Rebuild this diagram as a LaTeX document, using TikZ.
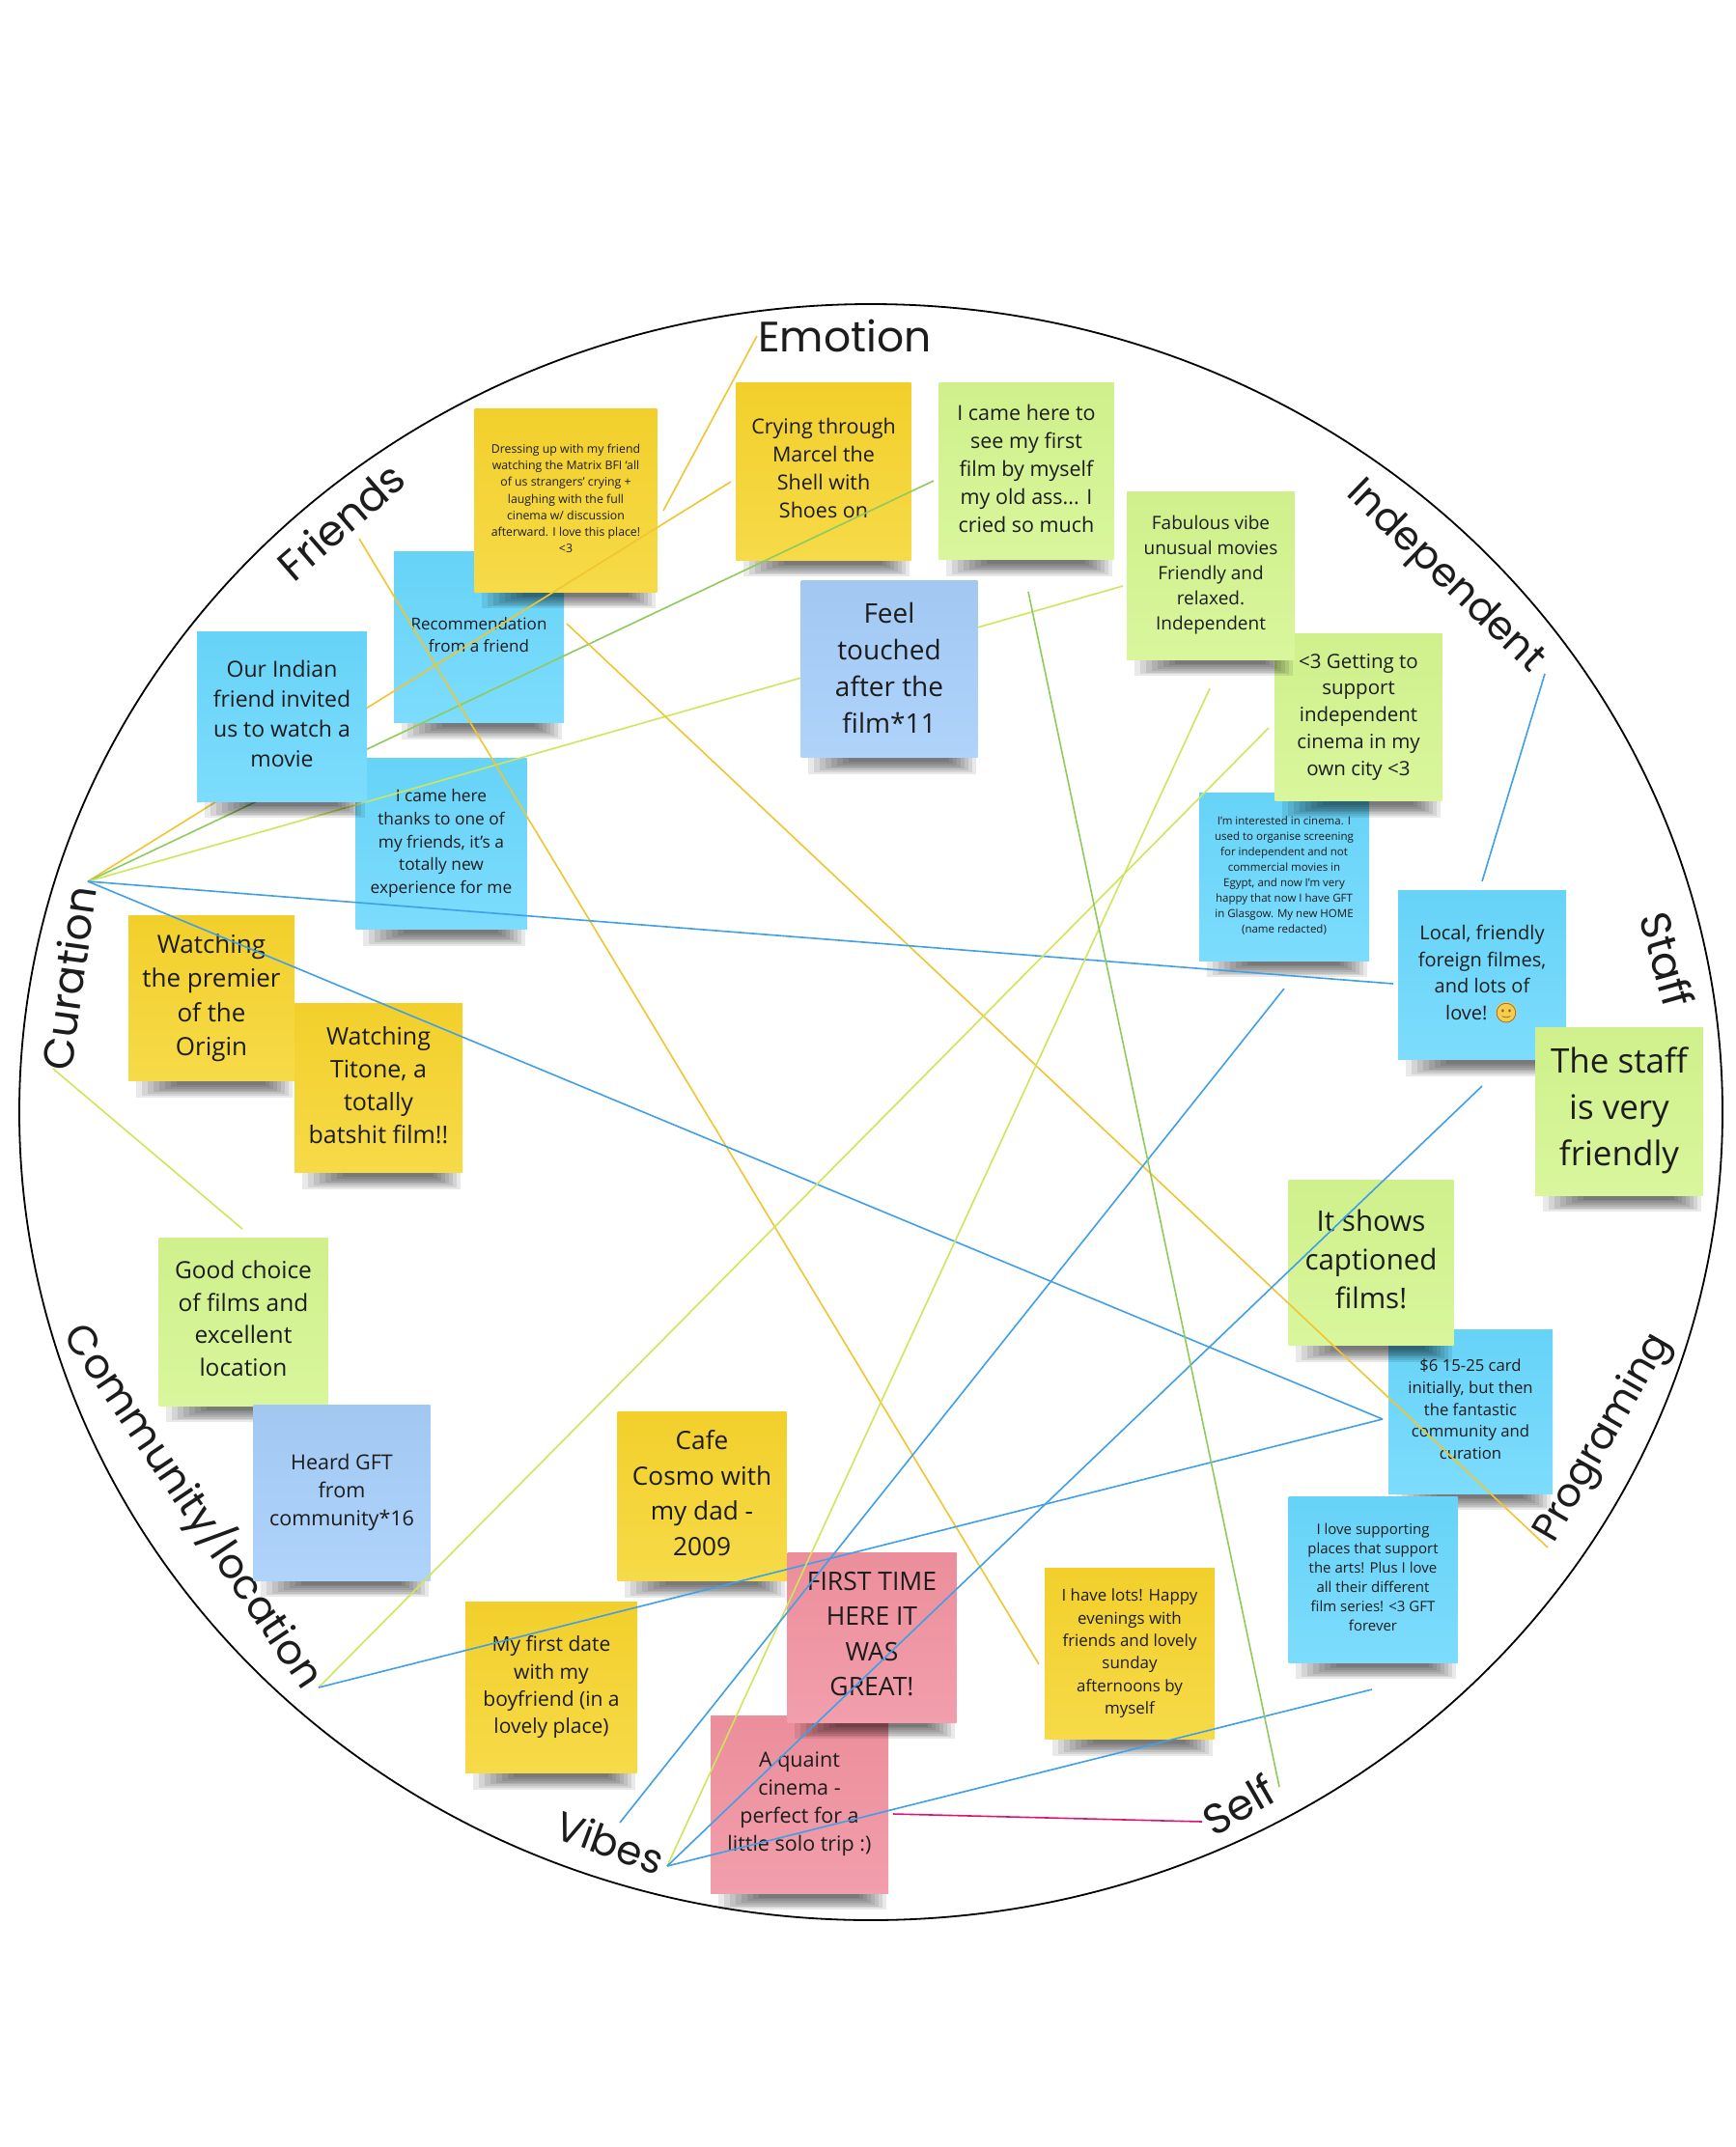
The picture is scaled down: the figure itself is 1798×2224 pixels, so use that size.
\documentclass[tikz,border=0pt]{standalone}
\usepackage{fontspec}
\setmainfont{Open Sans}
\newfontfamily\labelfont{Poppins}
\newfontfamily\emojifont{Noto Emoji}
\newfontfamily\symbolfont{DejaVu Sans}
\usetikzlibrary{calc}

\definecolor{yellowtop}{HTML}{F2CF2B}
\definecolor{yellowbot}{HTML}{F6DA48}
\definecolor{cyantop}{HTML}{66D3F7}
\definecolor{cyanbot}{HTML}{7DDCFD}
\definecolor{limetop}{HTML}{CFF08C}
\definecolor{limebot}{HTML}{D9F69C}
\definecolor{pinktop}{HTML}{EC8E9B}
\definecolor{pinkbot}{HTML}{F29EAC}
\definecolor{periwinkletop}{HTML}{A2C8F2}
\definecolor{periwinklebot}{HTML}{AFD3FB}
\definecolor{lineyellow}{HTML}{F1C530}
\definecolor{linegreen}{HTML}{8ECB5C}
\definecolor{linelime}{HTML}{CFE55B}
\definecolor{lineblue}{HTML}{3F9FE8}
\definecolor{linepink}{HTML}{DF1470}
\definecolor{inkcolor}{HTML}{1C1C1C}
\definecolor{smileyfill}{HTML}{F7CE4B}

\newcommand{\fs}[2]{\fontsize{#1}{#2}\selectfont}

\begin{document}
\begin{tikzpicture}[x=1pt,y=-1pt]
		\tikzstyle{note} = [inner sep=0pt, align=center, text=inkcolor,
			append after command={\pgfextra{
				\foreach \i in {0,...,7}
					\fill[black, fill opacity=.085]
						($(\tikzlastnode.south west)+(8+6*\i,0)$) rectangle ($(\tikzlastnode.south east)+(-2-4*\i,17-1.8*\i)$);
			}}]
		\tikzstyle{yellownote} = [note, top color=yellowtop, bottom color=yellowbot]
		\tikzstyle{cyannote} = [note, top color=cyantop, bottom color=cyanbot]
		\tikzstyle{limenote} = [note, top color=limetop, bottom color=limebot]
		\tikzstyle{pinknote} = [note, top color=pinktop, bottom color=pinkbot]
		\tikzstyle{periwinklenote} = [note, top color=periwinkletop, bottom color=periwinklebot]
		\tikzset{size/.style 2 args={font=\fs{#1}{#2}, text depth=#1*0.27pt}}
		\tikzstyle{theme} = [font=\labelfont\fs{44}{50}, text=inkcolor, inner sep=0pt]
		\tikzstyle{link} = [line width=1.6pt]

		\useasboundingbox (0,0) rectangle (1798,2224);
		\fill[white] (0,0) rectangle (1798,2224);

		% Outer circle
		\draw[line width=1.8pt, black] (902,1152) ellipse [x radius=882, y radius=837];

		% Free ends of the connectors
		\foreach \name/\x/\y in {curation/91/913, curationlow/55/1107, goodtop/251/1273,
			friends/372/558, lotsend/1076/1724, dressingend/587/646, programing/1603/1603,
			emotion/784/348, emotionend/687/529, cryingend/757/499, seeend/967/498,
			fabulousend/1163/607, localend/1443/1019, sixend/1432/1470,
			community/330/1748, gettingend/1314/754, vibes/691/1933, vibestop/642/1888,
			fabulousdown/1253/713, localdown/1535/1125, interestedend/1330/1024, lotsdown/1421/1750,
			seedown/1065/613, selfend/1325/1851, quaintend/925/1879, selfleft/1245/1887,
			localup/1535/913, independent/1600/698}
			\coordinate (\name) at (\x,\y);

		% Theme labels
		\node[theme] (Emotion) at (875,348) {Emotion};
		\node[theme, rotate=41] (Friends) at (353,540) {Friends};
		\node[theme, rotate=-44, font=\labelfont\fs{41.5}{50}] (Independent) at (1496,598) {Independent};
		\node[theme, rotate=-74] (Staff) at (1727,994) {Staff};
		\node[theme, rotate=60, font=\labelfont\fs{41}{50}] (Programing) at (1661,1490) {Programing};
		\node[theme, rotate=30] (Self) at (1283,1869) {Self};
		\node[theme, rotate=-20, font=\labelfont\fs{42}{50}] (Vibes) at (632,1908) {Vibes};
		\node[theme, rotate=-56, font=\labelfont\fs{42.5}{50}] (Community) at (201,1560) {Community/location};
		\node[theme, rotate=82] (Curation) at (71,1013) {Curation};

		% Sticky notes, lower ones first
		\node[cyannote, minimum width=176pt, minimum height=177pt, size={17}{23.4}] (Recommendation) at (496,660) {Recommendation\\from a friend};
		\node[yellownote, minimum width=189pt, minimum height=190pt, size={12.3}{17.3}] (Dressing) at (586,518) {Dressing up with my friend\\watching the Matrix BFI ‘all\\of us strangers’ crying +\\laughing with the full\\cinema w/ discussion\\afterward. I love this place!\\<3};
		\node[yellownote, minimum width=181pt, minimum height=184pt, size={21.5}{29}] (Crying) at (853,488) {Crying through\\Marcel the\\Shell with\\Shoes on};
		\node[limenote, minimum width=181pt, minimum height=183pt, size={21.5}{29}] (See) at (1063,488) {I came here to\\see my first\\film by myself\\my old ass... I\\cried so much};
		\node[cyannote, minimum width=176pt, minimum height=174pt, size={11.5}{16}] (Interested) at (1330,908) {I’m interested in cinema. I\\used to organise screening\\for independent and not\\commercial movies in\\Egypt, and now I’m very\\happy that now I have GFT\\in Glasgow. My new HOME\\(name redacted)};
		\node[limenote, minimum width=173pt, minimum height=173pt, size={20.5}{27.8}] (Getting) at (1407,743) {<3 Getting to\\support\\independent\\cinema in my\\own city <3};
		\node[limenote, minimum width=174pt, minimum height=174pt, size={19}{26}] (Fabulous) at (1254,596) {Fabulous vibe\\unusual movies\\Friendly and\\relaxed.\\Independent};
		\node[cyannote, minimum width=177pt, minimum height=177pt, size={17.3}{23.7}] (Thanks) at (457,874) {I came here\\thanks to one of\\my friends, it’s a\\totally new\\experience for me};
		\node[yellownote, minimum width=172pt, minimum height=171pt, size={26}{35.5}] (Premier) at (219,1034) {Watching\\the premier\\of the\\Origin};
		\node[yellownote, minimum width=174pt, minimum height=175pt, size={25}{34}] (Titone) at (392,1127) {Watching\\Titone, a\\totally\\batshit film!!};
		\node[cyannote, minimum width=174pt, minimum height=175pt, size={20}{27.5}] (Local) at (1535,1010) {Local, friendly\\foreign filmes,\\and lots of\\love! \makebox[0pt][l]{\makebox[1.26em][c]{\fontsize{28}{28}\symbolfont\textcolor{smileyfill}{●}}}{\emojifont\textcolor{brown!70!black}{🙂}}};
		\node[limenote, minimum width=174pt, minimum height=174pt, size={35}{48}] (Staffnote) at (1677,1151) {The staff\\is very\\friendly};
		\node[cyannote, minimum width=170pt, minimum height=170pt, size={16.7}{22.7}] (Card) at (1523,1462) {\$6 15-25 card\\initially, but then\\the fantastic\\community and\\curation};
		\node[limenote, minimum width=171pt, minimum height=171pt, size={29.5}{40}] (Captioned) at (1420,1308) {It shows\\captioned\\films!};
		\node[cyannote, minimum width=175pt, minimum height=172pt, size={15}{20}] (Arts) at (1422,1636) {I love supporting\\places that support\\the arts! Plus I love\\all their different\\film series! <3 GFT\\forever};
		\node[limenote, minimum width=175pt, minimum height=174pt, size={24.5}{33.6}] (Good) at (252,1369) {Good choice\\of films and\\excellent\\location};
		\node[periwinklenote, minimum width=183pt, minimum height=182pt, size={21.5}{29}] (Heard) at (354,1546) {Heard GFT\\from\\community*16};
		\node[yellownote, minimum width=175pt, minimum height=175pt, size={26.2}{36.4}] (Cafe) at (727,1550) {Cafe\\Cosmo with\\my dad -\\2009};
		\node[pinknote, minimum width=184pt, minimum height=184pt, size={21.5}{29}] (Quaint) at (828,1869) {A quaint\\cinema -\\perfect for a\\little solo trip :)};
		\node[pinknote, minimum width=175pt, minimum height=176pt, size={26.5}{36.4}] (Firsttime) at (903,1696) {FIRST TIME\\HERE IT\\WAS\\GREAT!};
		\node[yellownote, minimum width=178pt, minimum height=177pt, size={21}{28.4}] (Firstdate) at (571,1748) {My first date\\with my\\boyfriend (in a\\lovely place)};
		\node[yellownote, minimum width=176pt, minimum height=177pt, size={16.9}{23.4}] (Lots) at (1170,1713) {I have lots! Happy\\evenings with\\friends and lovely\\sunday\\afternoons by\\myself};

		% Connectors that run under two of the notes
		\draw[link, lineyellow] (curation) -- (cryingend);
		\draw[link, linegreen] (curation) -- (seeend);
		\draw[link, linelime] (curation) -- (fabulousend);

		\node[cyannote, minimum width=176pt, minimum height=176pt, size={23}{31}] (Indian) at (292,742) {Our Indian\\friend invited\\us to watch a\\movie};
		\node[periwinklenote, minimum width=183pt, minimum height=183pt, size={28}{38}, text depth=3pt] (Feel) at (921,693) {Feel\\touched\\after the\\film*11};

		% Connectors on top of the notes
		\draw[link, lineyellow] (friends) -- (lotsend);
		\draw[link, lineyellow] (dressingend) -- (programing);
		\draw[link, lineyellow] (emotion) -- (emotionend);
		\draw[link, lineblue] (curation) -- (localend);
		\draw[link, lineblue] (curation) -- (sixend);
		\draw[link, linelime] (curationlow) -- (goodtop);
		\draw[link, linelime] (community) -- (gettingend);
		\draw[link, lineblue] (community) -- (sixend);
		\draw[link, linelime] (vibes) -- (fabulousdown);
		\draw[link, lineblue] (vibes) -- (localdown);
		\draw[link, lineblue] (vibestop) -- (interestedend);
		\draw[link, lineblue] (vibes) -- (lotsdown);
		\draw[link, linegreen] (seedown) -- (selfend);
		\draw[link, linepink] (quaintend) -- (selfleft);
		\draw[link, lineblue] (localup) -- (independent);
		
\end{tikzpicture}
\end{document}
